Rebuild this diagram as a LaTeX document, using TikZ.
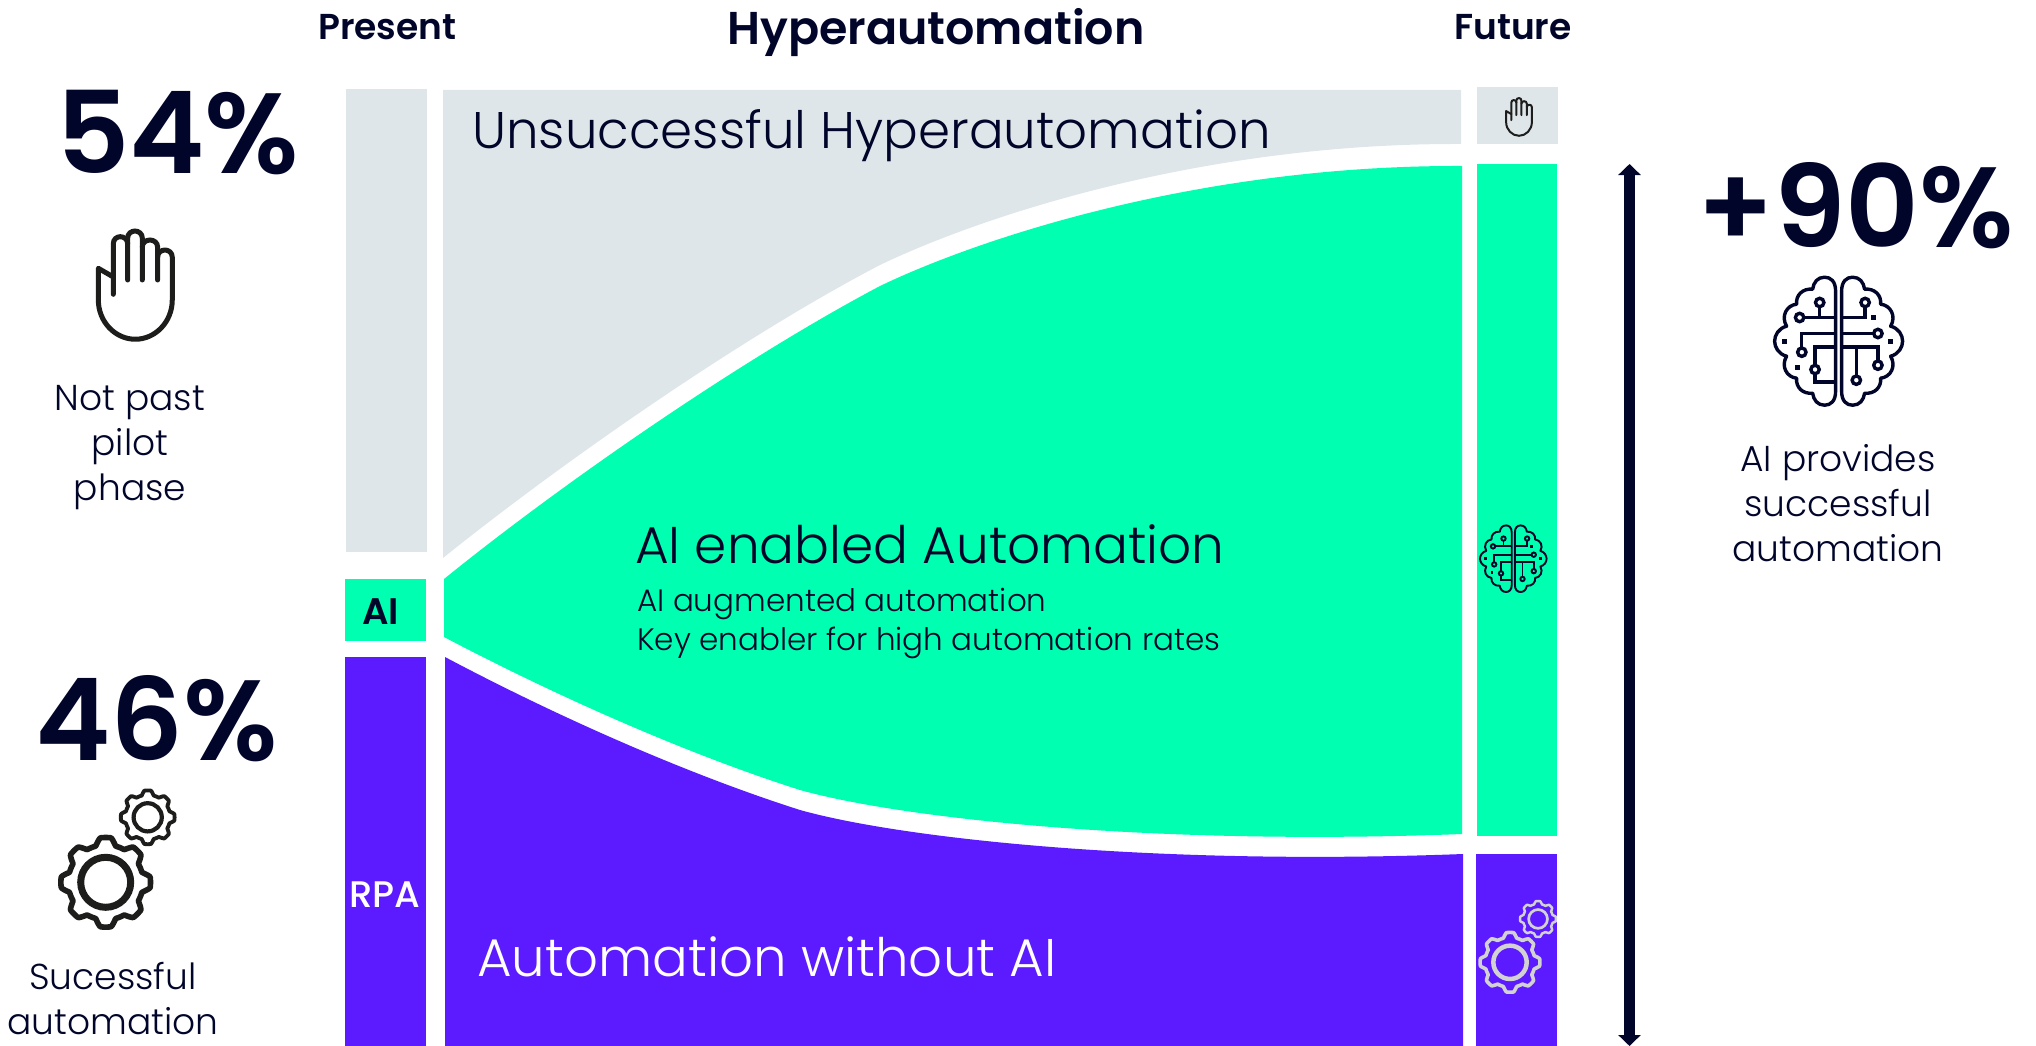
\documentclass[tikz,border=0pt]{standalone}
\usepackage{fontspec}
\setmainfont{Poppins Light}
\newfontfamily\medfont{Poppins Medium}
\newfontfamily\boldfont{Poppins SemiBold}
\usetikzlibrary{arrows.meta}
\definecolor{navy}{HTML}{01052A}
\definecolor{cloud}{HTML}{DFE6EA}
\definecolor{mint}{HTML}{00FFB0}
\definecolor{violet}{HTML}{5C1BFF}
\definecolor{ink}{HTML}{1D1D1B}
\definecolor{pale}{HTML}{D2D2D2}
\newcommand{\fsize}[1]{\fontsize{#1}{#1}\selectfont}
\tikzset{
  lbl/.style={inner sep=0pt,text=navy},
  big/.style={lbl,anchor=base west,font=\boldfont\fsize{114}},
  note/.style={lbl,anchor=base,align=center,font=\fontsize{36}{44.7}\selectfont},
  head/.style={lbl,anchor=base west,font=\boldfont\fsize{36}},
  band/.style={lbl,anchor=base west,font=\fsize{52}},
  pics/handicon/.style={code={
    \draw[line cap=round,line join=round,line width=#1]
      (-66,27) -- (-66,-25) -- (-111,-51) -- (-111,44)
      .. controls (-111,110) and (-60,162) .. (0,162)
      .. controls (60,162) and (111,110) .. (111,44)
      -- (111,-85) .. controls (111,-98) and (100,-106) .. (89,-106)
      .. controls (78,-106) and (67,-98) .. (67,-85);
    \draw[line cap=round,line width=#1]
      (-66,-25) -- (-66,-125) .. controls (-66,-138) and (-56,-146) .. (-45,-146)
      .. controls (-34,-146) and (-23,-138) .. (-23,-125) -- (-23,-16);
    \draw[line cap=round,line width=#1]
      (-23,-125) -- (-23,-142) .. controls (-23,-155) and (-12,-163) .. (-1,-163)
      .. controls (10,-163) and (21,-155) .. (21,-142) -- (21,-16);
    \draw[line cap=round,line width=#1]
      (21,-115) .. controls (21,-128) and (32,-136) .. (44,-136)
      .. controls (56,-136) and (67,-128) .. (67,-115) -- (67,-16);
  }},
  pics/gearicon/.style={code={
    % large wheel
    \draw[line width=.8*#1,line join=round] plot[domain=0:360,samples=241,smooth]
      (\x:{37.5+7.3*min(1,max(0,0.5+0.9*cos(8*\x)))}) -- cycle;
    \draw[line width=#1] (0,0) circle (25);
    % small wheel
    \begin{scope}[shift={(42,-65)},scale=.6]
      \draw[line width=.55*#1,line join=round] plot[domain=0:360,samples=241,smooth]
        (\x:{37.5+7.3*min(1,max(0,0.5+0.9*cos(8*\x)))}) -- cycle;
      \draw[line width=.6*#1] (0,0) circle (23.5);
    \end{scope}
  }},
  pics/brainicon/.style={code={
    % two lobes
    \foreach \s in {1,-1} {
      \draw[xscale=\s,line width=#1,line join=round]
        (-3,-50) .. controls (-3,-60) and (-8,-64) .. (-14,-64)
        .. controls (-21,-64) and (-25,-59) .. (-26,-52)
        .. controls (-36,-53) and (-43,-46) .. (-42,-37)
        .. controls (-52,-36) and (-58,-25) .. (-52,-15)
        .. controls (-60,-13) and (-64,-6) .. (-64,0)
        .. controls (-64,6) and (-60,13) .. (-52,15)
        .. controls (-58,25) and (-52,36) .. (-42,37)
        .. controls (-43,46) and (-36,53) .. (-26,52)
        .. controls (-25,59) and (-21,64) .. (-14,64)
        .. controls (-8,64) and (-3,60) .. (-3,50) -- cycle;
    }
    % circuit left
    \draw[line width=#1] (-35,-23.7) -- (-4,-23.7) (-18.9,-23.7) -- (-18.9,-35);
    \draw[line width=#1] (-4,-7.7) -- (-37,-7.7) -- (-37,7);
    \draw[line width=#1] (-4,5.7) -- (-23.6,5.7) -- (-23.6,24) (-23.6,32.5) -- (-23.6,40.7) -- (-4,40.7);
    % circuit right
    \draw[line width=#1] (4,-23.7) -- (26.5,-23.7) -- (26.5,-35);
    \draw[line width=#1] (4,-7.7) -- (35,-7.7);
    \draw[line width=#1] (4,5.7) -- (39.3,5.7) -- (39.3,20);
    \draw[line width=#1] (17.7,5.7) -- (17.7,35);
    % circuit ends
    \foreach \px/\py in {-39/-23.7,-18.9/-38.7,-36.8/11,-23.6/28.3,26.5/-38.7,39.3/-7.7,39.3/24,17.7/39}
      \draw[line width=#1] (\px,\py) circle (4.2);
    \foreach \px/\py in {-54/0,-41/26,35/-23.7,52/0}
      \fill (\px-2.5,\py-2.5) rectangle (\px+2.5,\py+2.5);
  }},
}
\begin{document}
\begin{tikzpicture}[x=1pt,y=-1pt]
\useasboundingbox (0,0) rectangle (2036,1046);

% present column
\fill [cloud] (346,89) rectangle (427,552);
\fill [mint] (345,579) rectangle (426,641);
\fill [violet] (345,657) rectangle (426,1046);

% flows
\fill [cloud] (443,90) -- (1461,90) -- (1461,144)
  .. controls (1200,143) and (980,217) .. (880,265)
  .. controls (740,338) and (560,464) .. (443,558) -- cycle;
\fill [mint] (444,579) .. controls (560,485) and (740,360) .. (880,286)
  .. controls (980,238) and (1200,165) .. (1462,166)
  -- (1462,834) .. controls (1150,846) and (900,818) .. (800,790)
  .. controls (690,755) and (560,698) .. (444,637) -- cycle;
\fill [violet] (445,657) .. controls (560,718) and (690,775) .. (800,810)
  .. controls (900,838) and (1150,866) .. (1463,854) -- (1463,1046) -- (445,1046) -- cycle;

% future column
\fill [cloud] (1477,87) rectangle (1558,144);
\fill [mint] (1477,164) rectangle (1557,836);
\fill [violet] (1476,854) rectangle (1557,1046);

% double arrow
\coordinate (arrowtop) at (1629.5,164);
\coordinate (arrowbot) at (1629.5,1046);
\draw [{Triangle[length=11pt,width=22pt]}-{Triangle[length=11pt,width=22pt]},line width=11pt,navy] (arrowtop) -- (arrowbot);

% titles
\node [head] (present) at (318,40) {Present};
\node [head,font=\boldfont\fsize{46}] (hyper) at (727,44.5) {Hyperautomation};
\node [head] (future) at (1454,40) {Future};

% figures
\node [big] (fiftyfour) at (56,173) {54\%};
\node [big] (fortysix) at (35,760) {46\%};
\node [big] (ninety) at (1697,247) {+90\%};

% side notes
\node [note] (notpast) at (130,500) {Not past\\pilot\\phase};
\node [note] (sucessful) at (113,1034) {Sucessful\\automation};
\node [note] (provides) at (1838,561) {AI provides\\successful\\automation};

% texts in the flows
\node [band,font=\fsize{51.5}] (unsucc) at (472,148) {Unsuccessful Hyperautomation};
\node [band,font=\fsize{51.7}] (aienabled) at (635,563) {AI enabled Automation};
\node [lbl,anchor=base west,font=\fsize{31}] (augmented) at (637,611) {AI augmented automation};
\node [lbl,anchor=base west,font=\fsize{31}] (keyenabler) at (637,650) {Key enabler for high automation rates};
\node [band,text=white,font=\fsize{53}] (without) at (477,976) {Automation without AI};
\node [lbl,anchor=base west,font=\boldfont\fsize{37}] (ailabel) at (362,624) {AI};
\node [lbl,anchor=base west,text=white,font=\medfont\fsize{37}] (rpalabel) at (349,907) {RPA};

% icons
\pic [ink,scale=.333] at (135.3,285.3) {handicon=5pt};
\pic [ink,scale=.116] at (1519,117) {handicon=2pt};
\pic [ink] at (105.7,882.3) {gearicon=7pt};
\pic [pale,scale=.667] at (1510,962.3) {gearicon=4.5pt};
\pic [navy] at (1838.6,341.2) {brainicon=3.4pt};
\pic [navy,scale=.52] at (1513.3,558.7) {brainicon=1.9pt};
\end{tikzpicture}
\end{document}
